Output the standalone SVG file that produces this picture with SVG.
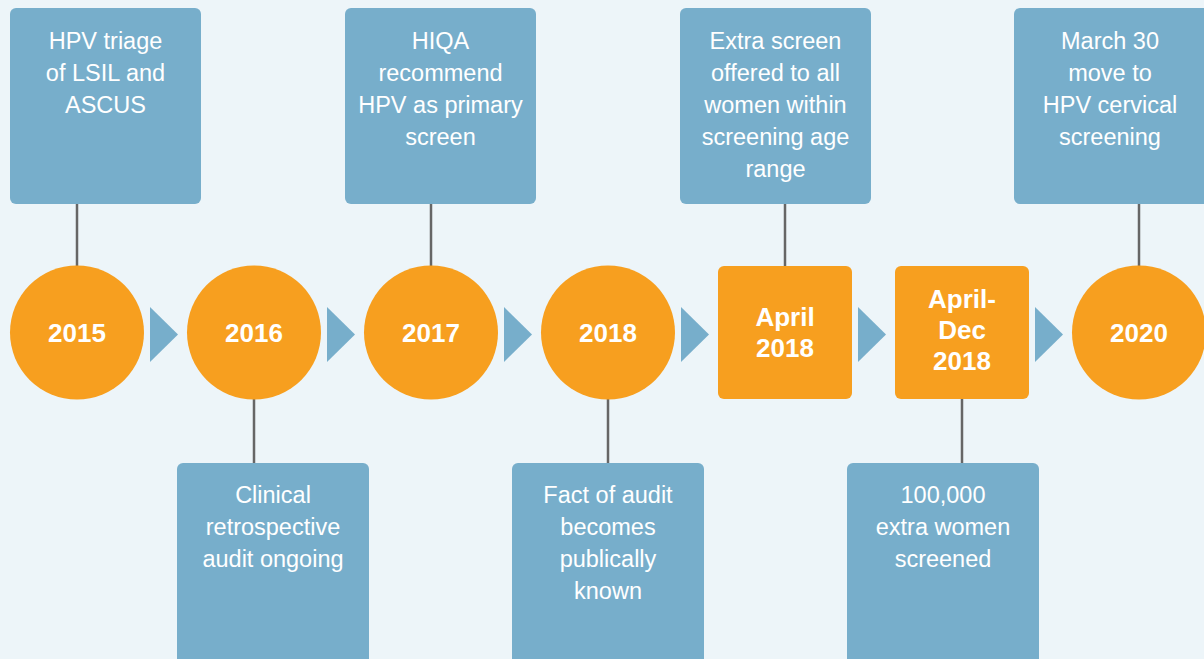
<svg xmlns="http://www.w3.org/2000/svg" width="1204" height="659" viewBox="0 0 1204 659">
<style>
.bg{fill:#EDF5F9}
.box{fill:#77AECB}
.ev{fill:#F79F1F}
.arr{fill:#77AECB}
.ln{stroke:#666;stroke-width:2.5;fill:none}
.t{font-family:"Liberation Sans",Arial,sans-serif;font-size:23.5px;fill:#fff;text-anchor:middle}
.y{font-family:"Liberation Sans",Arial,sans-serif;font-size:26px;font-weight:bold;fill:#fff;text-anchor:middle}
</style>
<rect class="bg" x="0" y="0" width="1204" height="659"/>
<g id="connectors">
<line class="ln" x1="77" y1="204" x2="77" y2="266"/>
<line class="ln" x1="254" y1="399" x2="254" y2="463"/>
<line class="ln" x1="431" y1="204" x2="431" y2="266"/>
<line class="ln" x1="608" y1="399" x2="608" y2="463"/>
<line class="ln" x1="785" y1="204" x2="785" y2="266"/>
<line class="ln" x1="962" y1="399" x2="962" y2="463"/>
<line class="ln" x1="1139" y1="204" x2="1139" y2="266"/>
<polygon class="arr" points="150,307 178,334.5 150,362"/>
<polygon class="arr" points="327,307 355,334.5 327,362"/>
<polygon class="arr" points="504,307 532,334.5 504,362"/>
<polygon class="arr" points="681,307 709,334.5 681,362"/>
<polygon class="arr" points="858,307 886,334.5 858,362"/>
<polygon class="arr" points="1035,307 1063,334.5 1035,362"/>
</g>
<g id="note2015"><rect class="box" x="10" y="8" width="191" height="196" rx="6"/>
<text class="t" x="105.5" y="49">HPV triage</text><text class="t" x="105.5" y="81">of LSIL and</text><text class="t" x="105.5" y="113">ASCUS</text></g>
<g id="note2016"><rect class="box" x="177" y="463" width="192" height="210" rx="6"/>
<text class="t" x="273" y="503">Clinical</text><text class="t" x="273" y="535">retrospective</text><text class="t" x="273" y="567">audit ongoing</text></g>
<g id="note2017"><rect class="box" x="345" y="8" width="191" height="196" rx="6"/>
<text class="t" x="440.5" y="49">HIQA</text><text class="t" x="440.5" y="81">recommend</text><text class="t" x="440.5" y="113">HPV as primary</text><text class="t" x="440.5" y="145">screen</text></g>
<g id="note2018"><rect class="box" x="512" y="463" width="192" height="210" rx="6"/>
<text class="t" x="608" y="503">Fact of audit</text><text class="t" x="608" y="535">becomes</text><text class="t" x="608" y="567">publically</text><text class="t" x="608" y="599">known</text></g>
<g id="noteApril"><rect class="box" x="680" y="8" width="191" height="196" rx="6"/>
<text class="t" x="775.5" y="49">Extra screen</text><text class="t" x="775.5" y="81">offered to all</text><text class="t" x="775.5" y="113">women within</text><text class="t" x="775.5" y="145">screening age</text><text class="t" x="775.5" y="177">range</text></g>
<g id="noteAprilDec"><rect class="box" x="847" y="463" width="192" height="210" rx="6"/>
<text class="t" x="943" y="503">100,000</text><text class="t" x="943" y="535">extra women</text><text class="t" x="943" y="567">screened</text></g>
<g id="note2020"><rect class="box" x="1014" y="8" width="196" height="196" rx="6"/>
<text class="t" x="1110" y="49">March 30</text><text class="t" x="1110" y="81">move to</text><text class="t" x="1110" y="113">HPV cervical</text><text class="t" x="1110" y="145">screening</text></g>
<g id="y2015"><circle class="ev" cx="77" cy="332.5" r="67"/><text class="y" x="77" y="342">2015</text></g>
<g id="y2016"><circle class="ev" cx="254" cy="332.5" r="67"/><text class="y" x="254" y="342">2016</text></g>
<g id="y2017"><circle class="ev" cx="431" cy="332.5" r="67"/><text class="y" x="431" y="342">2017</text></g>
<g id="y2018"><circle class="ev" cx="608" cy="332.5" r="67"/><text class="y" x="608" y="342">2018</text></g>
<g id="april2018"><rect class="ev" x="718" y="266" width="134" height="133" rx="6"/><text class="y" x="785" y="326">April</text><text class="y" x="785" y="357">2018</text></g>
<g id="aprildec2018"><rect class="ev" x="895" y="266" width="134" height="133" rx="6"/><text class="y" x="962" y="308">April-</text><text class="y" x="962" y="339">Dec</text><text class="y" x="962" y="370">2018</text></g>
<g id="y2020"><circle class="ev" cx="1139" cy="332.5" r="67"/><text class="y" x="1139" y="342">2020</text></g>
</svg>
